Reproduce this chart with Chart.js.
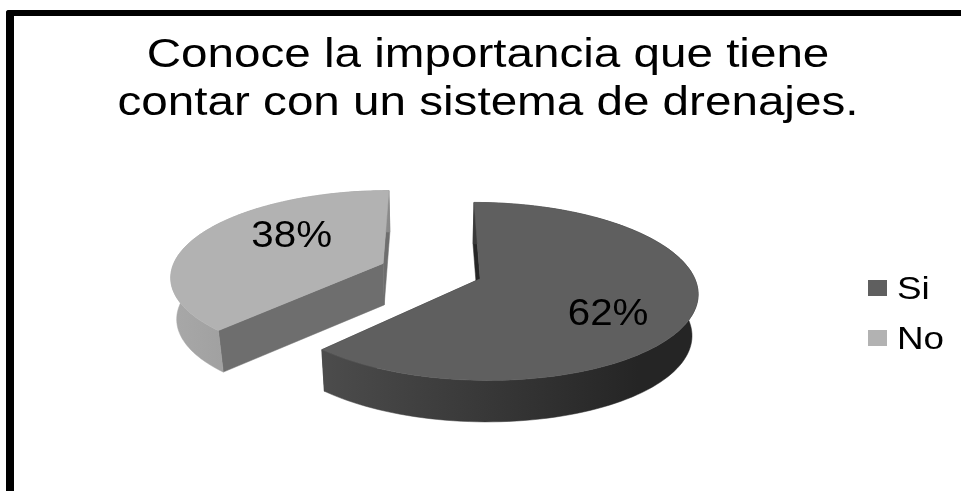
<!DOCTYPE html>
<html>
<head>
<meta charset="utf-8">
<title>Sistema de drenajes</title>
<script src="https://cdn.jsdelivr.net/npm/chart.js@4"></script>
<style>
  html, body { margin: 0; padding: 0; background: #fff; }
  #frame { position: absolute; left: 6px; top: 10px; right: 0; bottom: 0;
           border-left: 8px solid #000; border-top: 6px solid #000;
           border-top-left-radius: 3px; }
  canvas { position: absolute; left: 0; top: 0; }
</style>
</head>
<body>
<div id="frame"></div>
<canvas id="pie" width="961" height="491"></canvas>
<script>
const titleLines = ['Conoce la importancia que tiene', 'contar con un sistema de drenajes.'];
const categories = ['Si', 'No'];
const shares = [62, 38];
const topColors = ['#5f5f5f', '#b2b2b2'];
const radialFaceColors = ['#262626', '#6e6e6e'];
const wallStops = [['#4c4c4c', '#252525'], ['#a8a8a8', '#8a8a8a']];
const FONT_FAMILY = '"Liberation Sans", Arial, sans-serif';

// Extruded pie seen in perspective: arcs are laid out by Chart.js, then
// each one is projected from the pie's plane onto the canvas.
const perspectivePie = {
  id: 'perspectivePie',
  beforeDatasetsDraw(chart, args, opts) {
    const ctx = chart.ctx;
    const arcs = chart.getDatasetMeta(0).data;

    const project = (u, v, lower) => {
      const w = 1 - opts.tilt * v;
      let x = opts.originX + opts.radiusX * u / w;
      let y = opts.originY + opts.radiusY * v / w;
      if (lower) {
        x = opts.originX + (x - opts.originX) * opts.taper;
        y += opts.depth;
      }
      return [x, y];
    };

    // Draw the lighter, farther slice first.
    [1, 0].forEach(i => {
      const arc = arcs[i];
      const R = arc.outerRadius;
      const mid = (arc.startAngle + arc.endAngle) / 2;
      const du = arc.options.offset / R * Math.cos(mid);
      const dv = arc.options.offset / R * Math.sin(mid);
      const steps = 120;
      const rim = lower => {
        const pts = [];
        for (let s = 0; s <= steps; s++) {
          const a = arc.startAngle + (arc.endAngle - arc.startAngle) * s / steps;
          pts.push(project(du + Math.cos(a), dv + Math.sin(a), lower));
        }
        return pts;
      };
      const fillPath = (pts, style) => {
        ctx.beginPath();
        pts.forEach((p, k) => k ? ctx.lineTo(p[0], p[1]) : ctx.moveTo(p[0], p[1]));
        ctx.closePath();
        ctx.fillStyle = style;
        ctx.fill();
        ctx.strokeStyle = style;
        ctx.lineWidth = 0.5;
        ctx.stroke();
      };

      const upper = rim(false);
      const lower = rim(true);
      const apexTop = project(du, dv, false);
      const apexLow = project(du, dv, true);

      // radial cut faces
      fillPath([apexTop, upper[0], lower[0], apexLow], radialFaceColors[i]);
      fillPath([apexTop, upper[steps], lower[steps], apexLow], radialFaceColors[i]);

      // outer wall, shaded left to right
      const xs = upper.map(p => p[0]);
      const grad = ctx.createLinearGradient(Math.min(...xs), 0, Math.max(...xs) - opts.wallShadeInset[i], 0);
      grad.addColorStop(0, wallStops[i][0]);
      grad.addColorStop(1, wallStops[i][1]);
      fillPath(upper.concat(lower.slice().reverse()), grad);

      // top surface
      fillPath([apexTop].concat(upper), arc.options.backgroundColor);

      // value label
      ctx.save();
      ctx.fillStyle = '#000';
      ctx.font = opts.labelFont;
      ctx.textAlign = 'center';
      ctx.textBaseline = 'middle';
      ctx.translate(apexTop[0] + opts.labelShift[i][0], apexTop[1] + opts.labelShift[i][1]);
      ctx.scale(opts.labelStretch, 1);
      ctx.fillText(shares[i] + '%', 0, 0);
      ctx.restore();
    });
    return false;
  }
};

// Wide-set title: the native title block, stretched about its own centre.
const wideTitle = {
  id: 'wideTitle',
  beforeDraw(chart, args, opts) {
    const block = chart.titleBlock;
    if (!block || block.wide) return;
    const plain = block.draw.bind(block);
    block.wide = true;
    block.draw = function () {
      const ctx = chart.ctx;
      const mid = block.left + block.width / 2;
      ctx.save();
      ctx.translate(mid, 0);
      ctx.scale(opts.stretch, 1);
      ctx.translate(-mid, 0);
      plain();
      ctx.restore();
    };
  }
};

// Key beside the pie: one square and one name per category.
const sideKey = {
  id: 'sideKey',
  afterDraw(chart, args, opts) {
    const ctx = chart.ctx;
    categories.forEach((name, i) => {
      const top = opts.top + i * opts.step;
      ctx.fillStyle = topColors[i];
      ctx.fillRect(opts.left, top, opts.boxWidth, opts.boxHeight);
      ctx.save();
      ctx.fillStyle = '#000';
      ctx.font = opts.font;
      ctx.textBaseline = 'alphabetic';
      ctx.translate(opts.left + opts.textGap, top + opts.baseline);
      ctx.scale(opts.stretch, 1);
      ctx.fillText(name, 0, 0);
      ctx.restore();
    });
  }
};

new Chart(document.getElementById('pie'), {
  type: 'pie',
  plugins: [perspectivePie, wideTitle, sideKey],
  data: {
    labels: categories,
    datasets: [{
      data: shares,
      backgroundColor: topColors,
      borderWidth: 0,
      offset: 24.6,
      radius: 100
    }]
  },
  options: {
    responsive: false,
    animation: false,
    events: [],
    layout: { padding: { left: 15, right: 0, top: 22, bottom: 0 } },
    plugins: {
      perspectivePie: {
        originX: 431, originY: 271,
        radiusX: 212, radiusY: 85,
        tilt: 0.14, depth: 41.5, taper: 0.977,
        wallShadeInset: [60, 0],
        labelFont: '36px ' + FONT_FAMILY,
        labelStretch: 1.12,
        labelShift: [[128, 35.9], [-91.4, -26]]
      },
      wideTitle: { stretch: 1.19 },
      sideKey: {
        left: 868, top: 280, step: 50, boxWidth: 19, boxHeight: 16,
        textGap: 29, baseline: 19, stretch: 1.15,
        font: '32px ' + FONT_FAMILY
      },
      title: {
        display: true,
        text: titleLines,
        color: '#000',
        font: { family: FONT_FAMILY, size: 40, weight: 'normal', lineHeight: 1.19 },
        padding: { top: 10.5, bottom: 10 }
      },
      legend: { display: false },
      tooltip: { enabled: false }
    }
  }
});
</script>
</body>
</html>
